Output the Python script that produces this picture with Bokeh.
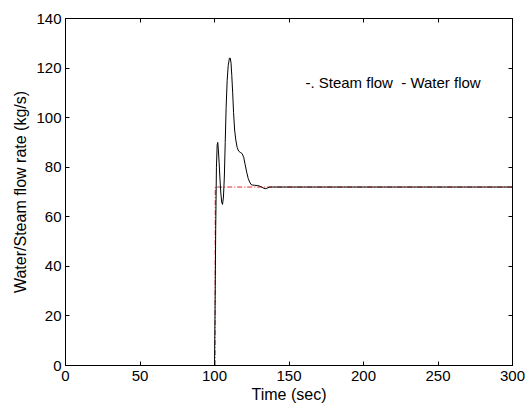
from bokeh.plotting import figure
from bokeh.models import Range1d, LinearAxis, Label, FixedTicker
from bokeh.embed import file_html
from bokeh.resources import INLINE

# Water flow (solid black)
water_t = [0, 100, 100.4, 100.8, 101.3, 101.8, 102.2, 102.6, 103.1, 103.6, 104.2, 104.8, 105.4, 106.0,
           106.6, 107.2, 107.8, 108.5, 109.2, 110.0, 110.6, 111.1, 111.6, 112.2, 112.8, 113.5, 114.3,
           115.2, 116.2, 117.3, 118.5, 119.6, 120.6, 121.6, 122.6, 123.6, 124.6, 125.6, 127.0, 129.0,
           131.0, 132.5, 134.0, 135.5, 137.0, 300]
water_v = [0, 0, 25, 55, 80, 89, 90, 87, 82, 76, 70, 66, 65, 68,
           76, 90, 104, 115, 121, 124, 124, 122, 117, 110, 102, 95, 91,
           88, 86.5, 86, 85.5, 84, 81, 78, 75.5, 74, 73, 72.8, 72.7, 72.6,
           72.2, 71.7, 71.3, 71.6, 72, 72]

# Steam flow (red dash-dot)
steam_t = [0, 100.4, 100.5, 300]
steam_v = [0, 0, 72, 72]

x_ticks = [0, 50, 100, 150, 200, 250, 300]
y_ticks = [0, 20, 40, 60, 80, 100, 120, 140]

FONT = "Liberation Sans"

p = figure(width=529, height=411, output_backend="svg", toolbar_location=None,
           x_range=Range1d(0, 300), y_range=Range1d(0, 140),
           min_border_left=65, min_border_right=17, min_border_top=18, min_border_bottom=46)
p.background_fill_color = "white"
p.border_fill_color = "white"
p.outline_line_color = "black"
p.outline_line_width = 1
p.grid.visible = False

p.line(steam_t, steam_v, line_color="#e8262b", line_width=1, line_dash="5 2 1 2")
p.line(water_t, water_v, line_color="black", line_width=1)

for ax in (p.xaxis[0], p.yaxis[0]):
    ax.axis_line_color = "black"
    ax.major_tick_in = 4
    ax.major_tick_out = 0
    ax.minor_tick_in = 0
    ax.minor_tick_out = 0
    ax.major_label_text_font = FONT
    ax.major_label_text_font_size = "15px"
    ax.major_label_text_color = "black"
    ax.axis_label_text_font = FONT
    ax.axis_label_text_font_size = "16px"
    ax.axis_label_text_font_style = "normal"
    ax.axis_label_text_color = "black"

p.xaxis[0].ticker = FixedTicker(ticks=x_ticks)
p.yaxis[0].ticker = FixedTicker(ticks=y_ticks)
p.xaxis[0].axis_label = "Time (sec)"
p.yaxis[0].axis_label = "Water/Steam flow rate (kg/s)"
p.xaxis[0].major_label_standoff = 5
p.yaxis[0].major_label_standoff = 4
p.xaxis[0].axis_label_standoff = 2
p.yaxis[0].axis_label_standoff = 4

for loc, ticks in (("right", y_ticks), ("above", x_ticks)):
    a = LinearAxis(ticker=FixedTicker(ticks=ticks),
                   major_label_overrides={t: "" for t in ticks},
                   major_tick_in=4, major_tick_out=0, minor_tick_in=0, minor_tick_out=0,
                   axis_line_color="black", major_label_standoff=0)
    p.add_layout(a, loc)

p.add_layout(Label(x=161, y=114, text="-. Steam flow \u00a0- Water flow", text_font=FONT,
                   text_font_size="15px", text_color="black", text_baseline="middle"))

open("out.html", "w").write(file_html(p, INLINE))
